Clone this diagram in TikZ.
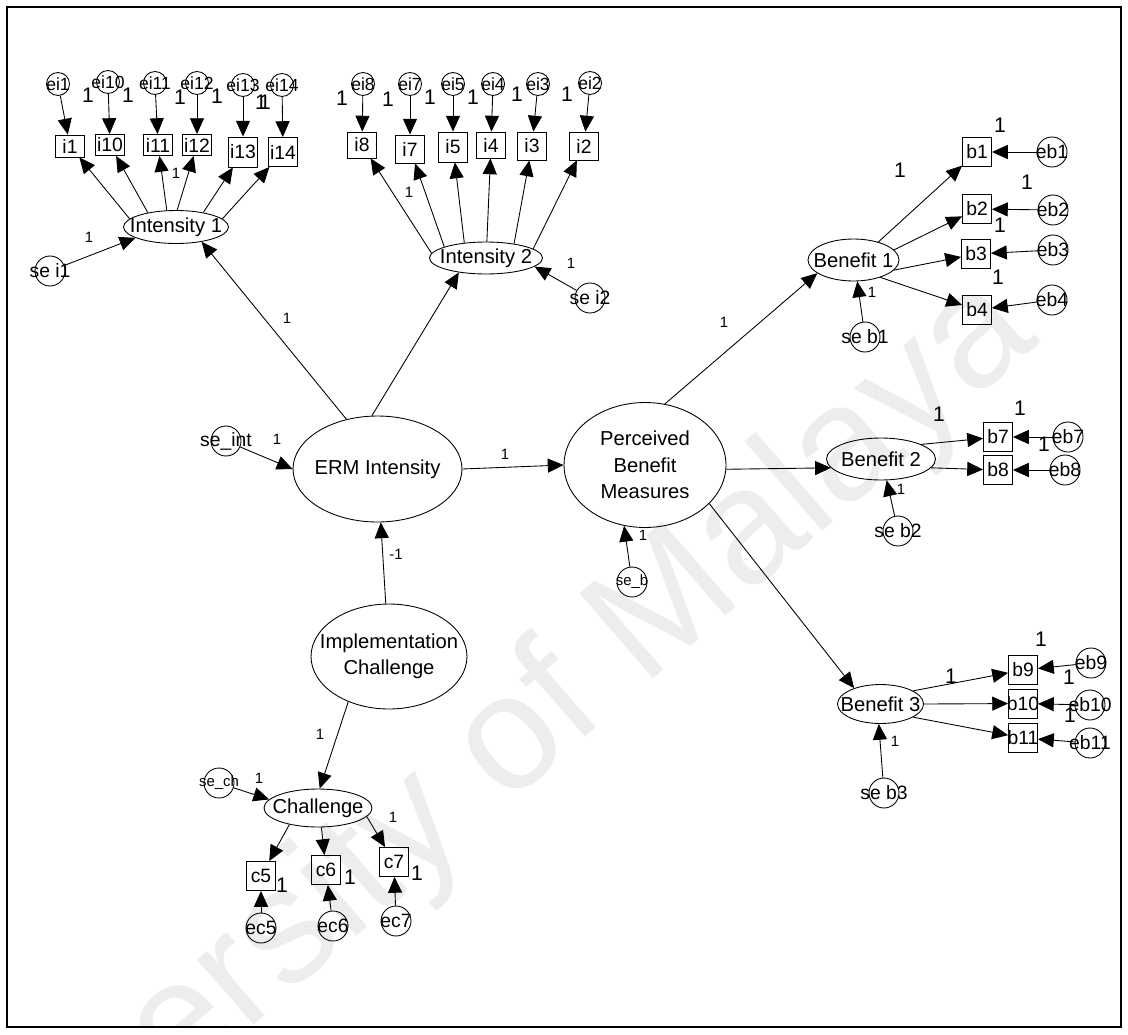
\documentclass[tikz,border=0pt]{standalone}
\usepackage{fontspec}
\setmainfont{Liberation Sans}
\usetikzlibrary{arrows.meta,shapes.geometric}

\begin{document}
\begin{tikzpicture}[x=0.02cm,y=-0.02cm,line width=0.5pt]
\tikzset{
  lat/.style={ellipse,draw,inner sep=0pt,label={[align=center,font=\fontsize{11.5}{15}\selectfont]center:#1}},
  obs/.style={rectangle,draw,minimum width=5.8mm,minimum height=5.8mm,inner sep=0pt,label={[font=\fontsize{11}{13}\selectfont]center:#1}},
  err/.style={circle,draw,minimum size=6mm,inner sep=0pt,label={[font=\fontsize{11}{13}\selectfont]center:#1}},
  errsmall/.style={circle,draw,minimum size=6mm,inner sep=0pt,label={[font=\fontsize{8.5}{10}\selectfont]center:#1}},
  ind/.style={circle,draw,minimum size=4.6mm,inner sep=0pt,label={[font=\fontsize{10}{12}\selectfont]center:#1}},
  arr/.style={-{Triangle[length=9pt,width=8pt]}},
  big/.style={font=\fontsize{12}{14}\selectfont,inner sep=0pt},
  sml/.style={font=\fontsize{8.5}{10}\selectfont,inner sep=0pt}
}
\useasboundingbox (0,0) rectangle (1128,1034);

% watermark
\begin{scope}
\clip (7,7) rectangle (1121,1027);
\node[text=black!7,font=\fontsize{93}{100}\selectfont,rotate=41] (mark) at (458,792) {University of Malaya};
\end{scope}
\draw[line width=0.8pt] (7,7) rectangle (1121,1027);

% latent variables
\node[lat={ERM Intensity},minimum width=33.8mm,minimum height=21.2mm] (erm) at (377.5,469) {};
\node[lat={Perceived\\Benefit\\Measures},minimum width=32.4mm,minimum height=25mm] (pbm) at (645,465) {};
\node[lat={Implementation\\Challenge},minimum width=31.2mm,minimum height=21mm] (ic) at (389,656.5) {};
\node[lat={Intensity 1},minimum width=21mm,minimum height=6.6mm] (int1) at (176,227) {};
\node[lat={Intensity 2},minimum width=22.6mm,minimum height=6.4mm] (int2) at (486,258) {};
\node[lat={Challenge},minimum width=21.6mm,minimum height=7.6mm] (chal) at (318,808) {};
\node[lat={Benefit 1},minimum width=18.2mm,minimum height=8.4mm] (ben1) at (853.5,260) {};
\node[lat={Benefit 2},minimum width=21.8mm,minimum height=8.4mm] (ben2) at (881,459) {};
\node[lat={Benefit 3},minimum width=17.2mm,minimum height=7.8mm] (ben3) at (880.5,704) {};

% indicators
\foreach \n/\x/\y/\h in {1/70/146/4.4,10/110/145/4.2,11/158/145/4.2,12/197/145/4.2,13/243/152/6,14/283/152/5.8,
                         8/362/145/5.2,7/410/149/5.6,5/453/147/6,4/491/145/5.2,3/532/146/5.6,2/584/146/5.6}
  \node[obs=i\n,minimum height=\h mm] (i\n) at (\x,\y) {};
\foreach \n/\x/\y in {1/977/152,2/977/209,3/976/254,4/977/310,7/998/437,8/998/470,9/1023/670,10/1023/703.5,11/1023/738}
  \node[obs=b\n] (b\n) at (\x,\y) {};
\foreach \n/\x/\y in {5/261/876,6/326/870,7/394/862}
  \node[obs=c\n] (c\n) at (\x,\y) {};

% error terms
\foreach \n/\x/\y in {1/58/84,10/108/82,11/155/83,12/197/83,13/243/85,14/282/85,
                      8/363/84,7/410/84,5/453/84,4/493/84,3/538/84,2/590/83}
  \node[ind=ei\n] (ei\n) at (\x,\y) {};
\foreach \n/\x/\y in {1/1052/152,2/1053/210,3/1053/250,4/1052/300,7/1068/437,8/1065/470,9/1091/663,10/1090/705,11/1090/743}
  \node[err=eb\n] (eb\n) at (\x,\y) {};
\foreach \n/\x/\y in {5/261/928,6/333/926,7/396/921}
  \node[err=ec\n] (ec\n) at (\x,\y) {};
\node[err={se i1}] (sei1) at (50,271) {};
\node[err={se i2}] (sei2) at (590,298) {};
\node[err={se\_int}] (seint) at (226,441) {};
\node[errsmall={se\_b}] (seb) at (632,582) {};
\node[errsmall={se\_ch}] (sech) at (219,783) {};
\node[err={se b1}] (seb1) at (865,337) {};
\node[err={se b2}] (seb2) at (898,531) {};
\node[err={se b3}] (seb3) at (884,793) {};

% paths
\foreach \n/\a in {1/170,10/153,11/119,12/86,13/28,14/10}
  \draw[arr] (int1.\a) -- (i\n);
\foreach \n/\a in {8/175,7/165,5/145,4/87,3/27,2/11}
  \draw[arr] (int2.\a) -- (i\n);
\foreach \n in {1,10,11,12,13,14,8,7,5,4,3,2}
  \draw[arr] (ei\n) -- (i\n);
\draw[arr] (sei1) -- (int1.195);
\draw[arr] (sei2) -- (int2.-10);
\draw[arr] (erm.122) -- (int1.-30);
\draw[arr] (erm.96) -- (int2.-152);
\draw[arr] (seint) -- (erm.west);
\draw[arr] (erm.east) -- (pbm.west);
\draw[arr] (ic) -- (erm);
\draw[arr] (seb) -- (pbm.-109);
\draw[arr] (ic.-132) -- (chal.85);
\draw[arr] (sech) -- (chal.170);
\foreach \n/\a in {5/-150,6/-80,7/-10}
  \draw[arr] (chal.\a) -- (c\n);
\foreach \n in {5,6,7}
  \draw[arr] (ec\n) -- (c\n);
\draw[arr] (pbm.72) -- (ben1.-160);
\draw[arr] (pbm.-3) -- (ben2.-170);
\draw[arr] (pbm.-31) -- (ben3.149);
\foreach \n/\a in {1/36,2/14,3/-14,4/-33}
  \draw[arr] (ben1.\a) -- (b\n);
\foreach \n/\a in {7/20,8/-10}
  \draw[arr] (ben2.\a) -- (b\n);
\foreach \n/\a in {9/22,10/0,11/-22}
  \draw[arr] (ben3.\a) -- (b\n);
\foreach \n in {1,2,3,4,7,8,9,10,11}
  \draw[arr] (eb\n) -- (b\n);
\draw[arr] (seb1) -- (ben1.-80);
\draw[arr] (seb2) -- (ben2.-75);
\draw[arr] (seb3) -- (ben3.-95);

% fixed weights
\foreach \x/\y [count=\k] in {88/95,128/95,180/97,217/96,261/102,265/102,342/98,388/99,430/97,473/97,517/94,567/94,
                              1000/125,900/170,1027/182,1000/225,998/277,939/414,1020/408,1044/444,
                              1041/639,951/676,1069/677,1070/715,282/885,350/877,417/873}
  \node[big] (one\k) at (\x,\y) {1};
\foreach \x/\y [count=\k] in {89/237,176/173,409/192,571/263,287/318,277/439,505/454,643/535,724/322,
                              872/292,901/489,895/741,320/734,259/778,393/817}
  \node[sml] (w\k) at (\x,\y) {1};
\node[sml] (wneg) at (396,554) {-1};
\end{tikzpicture}
\end{document}
